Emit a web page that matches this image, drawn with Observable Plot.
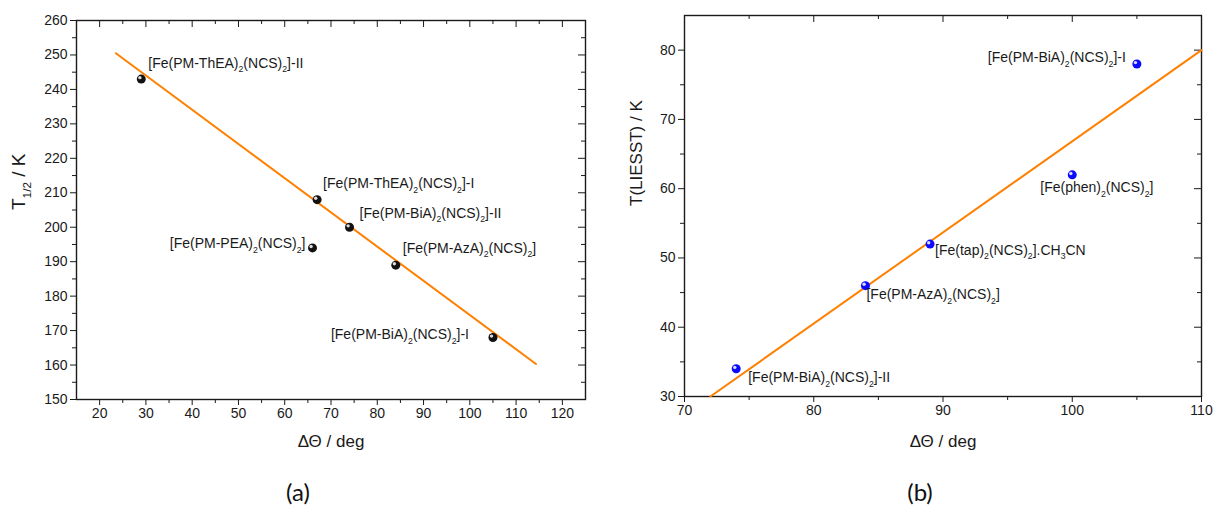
<!DOCTYPE html>
<html><head><meta charset="utf-8">
<script src="https://cdn.jsdelivr.net/npm/d3@7"></script>
<script src="https://cdn.jsdelivr.net/npm/@observablehq/plot@0.6"></script>
<style>
body{margin:0;background:#fff;}
#wrap{position:relative;width:1214px;height:508px;overflow:hidden;}
.p{position:absolute;top:0;}
.cap{position:absolute;top:477px;font-family:Lato,"Open Sans",sans-serif;font-size:24px;color:#111;transform:translateX(-50%);line-height:30px;}
</style></head>
<body><div id="wrap"></div>
<script>
// ---- Panel (a) data ----
const xA = [29, 67, 74, 66, 84, 105];
const yA = [243, 208, 200, 194, 189, 168];
const namesA = [
  "[Fe(PM-ThEA)_{2}(NCS)_{2}]-II",
  "[Fe(PM-ThEA)_{2}(NCS)_{2}]-I",
  "[Fe(PM-BiA)_{2}(NCS)_{2}]-II",
  "[Fe(PM-PEA)_{2}(NCS)_{2}]",
  "[Fe(PM-AzA)_{2}(NCS)_{2}]",
  "[Fe(PM-BiA)_{2}(NCS)_{2}]-I"
];
const fitXA = [23.5, 114.3];
const fitYA = [250.5, 160.3];
const xTicksA = [20, 30, 40, 50, 60, 70, 80, 90, 100, 110, 120];
const xMinorA = [25, 35, 45, 55, 65, 75, 85, 95, 105, 115];
const yTicksA = [150, 160, 170, 180, 190, 200, 210, 220, 230, 240, 250, 260];
const yMinorA = [155, 165, 175, 185, 195, 205, 215, 225, 235, 245, 255];

// ---- Panel (b) data ----
const xB = [74, 84, 89, 100, 105];
const yB = [34, 46, 52, 62, 78];
const namesB = [
  "[Fe(PM-BiA)_{2}(NCS)_{2}]-II",
  "[Fe(PM-AzA)_{2}(NCS)_{2}]",
  "[Fe(tap)_{2}(NCS)_{2}].CH_{3}CN",
  "[Fe(phen)_{2}(NCS)_{2}]",
  "[Fe(PM-BiA)_{2}(NCS)_{2}]-I"
];
const fitXB = [72, 110];
const fitYB = [30, 80];
const xTicksB = [70, 80, 90, 100, 110];
const xMinorB = [75, 85, 95, 105];
const yTicksB = [30, 40, 50, 60, 70, 80];
const yMinorB = [35, 45, 55, 65, 75];

// label placement (styling, not data): [dx, dy, anchor]
const placeA = [[7,-16,"start"],[6,-16,"start"],[10,-14,"start"],[-7,-4,"end"],[7,-17,"start"],[-24,-3,"end"]];
const placeB = [[12,9,"start"],[1,9,"start"],[5,6,"start"],[-32,13,"start"],[-11,-6,"end"]];

const NS = "http://www.w3.org/2000/svg";
function subify(svg){
  for (const t of svg.querySelectorAll("text")) {
    const s = t.textContent;
    if (!s.includes("_{")) continue;
    const fs = parseFloat(getComputedStyle(t).fontSize) || 14;
    const sh = fs * 0.34;
    t.textContent = "";
    let shifted = false;
    for (const p of s.split(/(_\{[^}]*\})/)) {
      if (!p) continue;
      const ts = document.createElementNS(NS, "tspan");
      if (p.startsWith("_{")) {
        ts.textContent = p.slice(2, -1);
        ts.setAttribute("font-size", (fs * 0.62).toFixed(1));
        ts.setAttribute("dy", sh.toFixed(1));
        shifted = true;
      } else {
        ts.textContent = p;
        if (shifted) { ts.setAttribute("dy", (-sh).toFixed(1)); shifted = false; }
      }
      t.appendChild(ts);
    }
  }
}

function panel(o){
  const pts = o.xs.map((x, i) => ({x, y: o.ys[i], name: o.names[i]}));
  const fit = o.fitX.map((x, i) => ({x, y: o.fitY[i]}));
  const innerW = o.width - o.ml - o.mr, innerH = o.height - o.mt - o.mb;
  const ink = "#1a1a1a";
  const labels = pts.map((d, i) => Plot.text([d], {
    x: "x", y: "y", text: "name", dx: o.place[i][0], dy: o.place[i][1],
    textAnchor: o.place[i][2], fontSize: 14, fill: ink
  }));
  return Plot.plot({
    width: o.width, height: o.height,
    marginLeft: o.ml, marginRight: o.mr, marginTop: o.mt, marginBottom: o.mb,
    style: {fontFamily: '"Liberation Sans", Arial, sans-serif', fontSize: "14px", color: ink, background: "white", overflow: "visible"},
    x: {domain: o.xDomain, label: null},
    y: {domain: o.yDomain, label: null},
    marks: [
      Plot.axisX({ticks: o.xTicks, anchor: "bottom", tickSize: 6, tickPadding: 3, fontSize: 14, label: null, stroke: ink, fill: ink}),
      Plot.axisX({ticks: o.xMinor, anchor: "bottom", tickSize: 4, tickFormat: () => "", label: null, stroke: ink}),
      Plot.axisY({ticks: o.yTicks, anchor: "left", tickSize: 6, tickPadding: 3, fontSize: 14, label: null, stroke: ink, fill: ink}),
      Plot.axisY({ticks: o.yMinor, anchor: "left", tickSize: 4, tickFormat: () => "", label: null, stroke: ink}),
      Plot.tickX(o.xTicks, {x: d => d, insetBottom: innerH - 7, stroke: ink}),
      Plot.tickX(o.xMinor, {x: d => d, insetBottom: innerH - 4, stroke: ink}),
      Plot.tickY(o.yTicks, {y: d => d, insetLeft: innerW - 7, stroke: ink}),
      Plot.tickY(o.yMinor, {y: d => d, insetLeft: innerW - 4, stroke: ink}),
      Plot.frame({stroke: ink, strokeWidth: 1.4}),
      Plot.line(fit, {x: "x", y: "y", stroke: "#ff8000", strokeWidth: 2}),
      Plot.dot(pts, {x: "x", y: "y", r: 4.5, fill: o.dotFill}),
      Plot.dot(pts, {x: "x", y: "y", r: 1.7, fill: "white", fillOpacity: 0.85, dx: -1.4, dy: -1.4}),
      ...labels,
      Plot.text([o.yLabel], {frameAnchor: "left", dx: o.yLabelDx, rotate: -90, fontSize: o.yLabelSize, fill: ink}),
      Plot.text([o.xLabel], {frameAnchor: "bottom", dy: o.xLabelDy, fontSize: 17, fill: ink})
    ]
  });
}

const wrap = document.getElementById("wrap");

const a = panel({
  xs: xA, ys: yA, names: namesA, fitX: fitXA, fitY: fitYA, place: placeA,
  xTicks: xTicksA, xMinor: xMinorA, yTicks: yTicksA, yMinor: yMinorA,
  xDomain: [15, 125], yDomain: [150, 260],
  width: 600, height: 460, ml: 76, mr: 15, mt: 20, mb: 61,
  dotFill: "#111", yLabel: "T_{1/2} / K", yLabelDx: -58, yLabelSize: 19, xLabel: "ΔΘ / deg", xLabelDy: 47
});
a.classList.add("p"); a.style.left = "0px";
wrap.appendChild(a);

const b = panel({
  xs: xB, ys: yB, names: namesB, fitX: fitXB, fitY: fitYB, place: placeB,
  xTicks: xTicksB, xMinor: xMinorB, yTicks: yTicksB, yMinor: yMinorB,
  xDomain: [70, 110], yDomain: [30, 85],
  width: 614, height: 460, ml: 84, mr: 13, mt: 15, mb: 64,
  dotFill: "#0a0aff", yLabel: "T(LIESST) / K", yLabelDx: -48, yLabelSize: 17, xLabel: "ΔΘ / deg", xLabelDy: 50
});
b.classList.add("p"); b.style.left = "600px";
wrap.appendChild(b);

subify(a); subify(b);

for (const [t, x] of [["(a)", 298], ["(b)", 920]]) {
  const d = document.createElement("div");
  d.className = "cap"; d.textContent = t; d.style.left = x + "px";
  wrap.appendChild(d);
}
</script>
</body></html>
